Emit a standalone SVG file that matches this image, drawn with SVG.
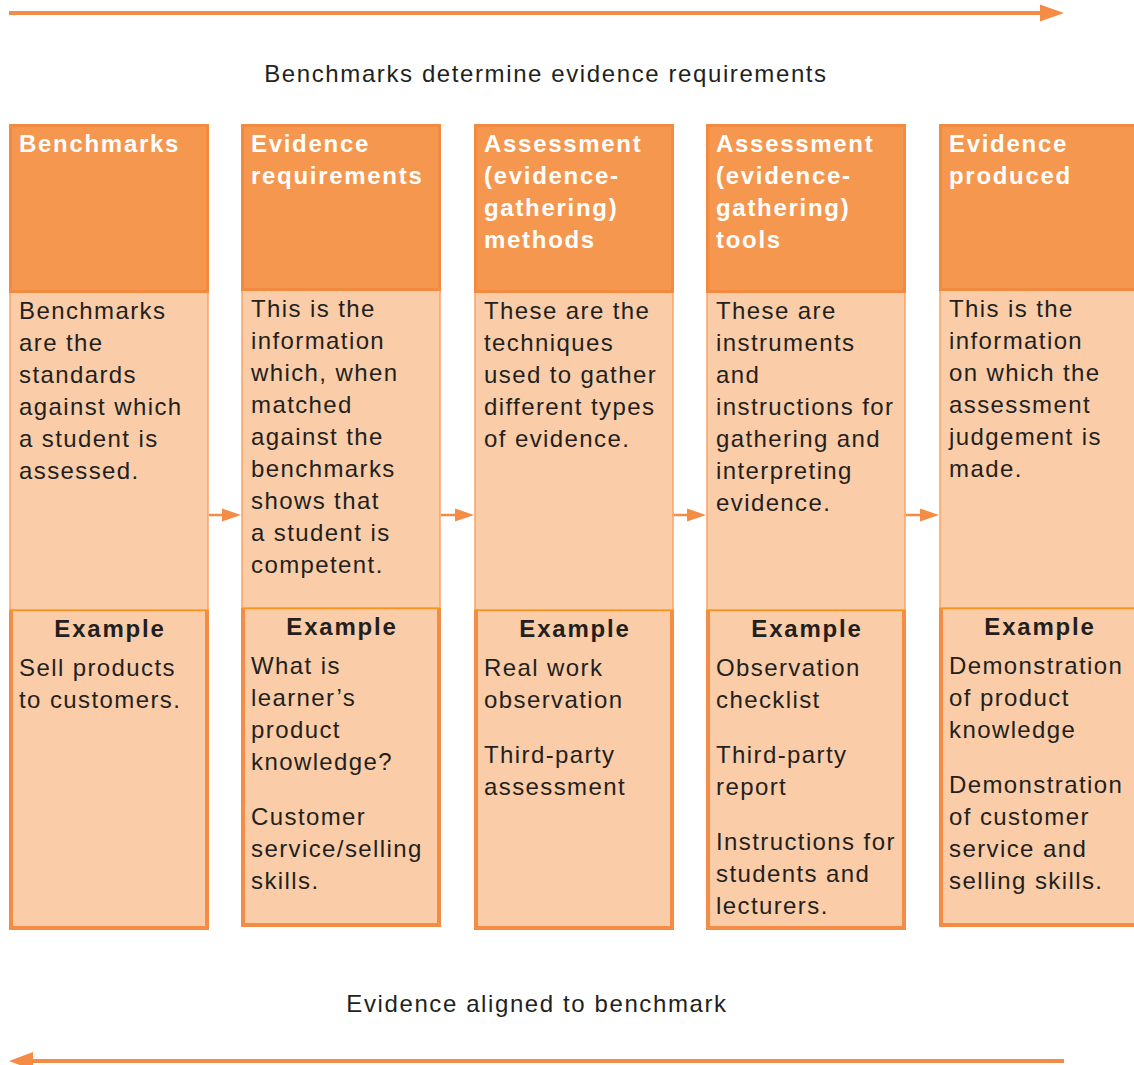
<svg xmlns="http://www.w3.org/2000/svg" width="1134" height="1065" viewBox="0 0 1134 1065">
  <style>
    .hdr { fill: #F5974F; stroke: #F28A40; stroke-width: 3; }
    .body { fill: #FACDA8; stroke: #F7A265; stroke-width: 1.5; }
    .ex { fill: #FACDA8; }
    .exedge { fill: none; stroke: #F58C45; stroke-width: 4; }
    .exdiv { stroke: #F7941D; stroke-width: 1.5; }
    .ht { font-family: "Liberation Sans", Arial, sans-serif; font-weight: bold; font-size: 24px; letter-spacing: 1.7px; fill: #FFFFFF; }
    .bt { font-family: "Liberation Sans", Arial, sans-serif; font-size: 24px; letter-spacing: 1.4px; fill: #231F20; }
    .et { font-family: "Liberation Sans", Arial, sans-serif; font-weight: bold; font-size: 24px; letter-spacing: 1.8px; fill: #231F20; text-anchor: middle; }
    .cap { font-family: "Liberation Sans", Arial, sans-serif; font-size: 24px; letter-spacing: 1.6px; fill: #231F20; text-anchor: middle; }
    .line { stroke: #F58C45; stroke-width: 4; fill: none; }
    .sline { stroke: #F58C45; stroke-width: 2.5; fill: none; }
    .head { fill: #F58C45; }
  </style>

  <!-- flow captions -->
  <text class="cap" x="546" y="82">Benchmarks determine evidence requirements</text>
  <text class="cap" x="537" y="1012">Evidence aligned to benchmark</text>

  <!-- column 1 -->
  <g id="benchmarks">
    <rect class="body" x="10" y="292" width="198" height="318"/>
    <rect class="hdr" x="10.5" y="125.5" width="197" height="166"/>
    <rect class="ex" x="9" y="610" width="200" height="320"/>
    <path class="exedge" d="M11 610 V928 H207 V610"/>
    <line class="exdiv" x1="9" y1="610.5" x2="209" y2="610.5"/>
    <text class="ht" x="19" y="152">Benchmarks</text>
    <text class="bt" x="19" y="319"><tspan x="19">Benchmarks</tspan><tspan x="19" dy="32">are the</tspan><tspan x="19" dy="32">standards</tspan><tspan x="19" dy="32">against which</tspan><tspan x="19" dy="32">a student is</tspan><tspan x="19" dy="32">assessed.</tspan></text>
    <text class="et" x="110" y="637">Example</text>
    <text class="bt" x="19" y="676"><tspan x="19">Sell products</tspan><tspan x="19" dy="32">to customers.</tspan></text>
  </g>

  <!-- column 2 -->
  <g id="evidence-requirements">
    <rect class="body" x="242" y="290" width="198" height="318"/>
    <rect class="hdr" x="242.5" y="125.5" width="197" height="164"/>
    <rect class="ex" x="241" y="608" width="200" height="319"/>
    <path class="exedge" d="M243 608 V925 H439 V608"/>
    <line class="exdiv" x1="241" y1="608.5" x2="441" y2="608.5"/>
    <text class="ht" x="251" y="152"><tspan x="251">Evidence</tspan><tspan x="251" dy="32">requirements</tspan></text>
    <text class="bt" x="251" y="317"><tspan x="251">This is the</tspan><tspan x="251" dy="32">information</tspan><tspan x="251" dy="32">which, when</tspan><tspan x="251" dy="32">matched</tspan><tspan x="251" dy="32">against the</tspan><tspan x="251" dy="32">benchmarks</tspan><tspan x="251" dy="32">shows that</tspan><tspan x="251" dy="32">a student is</tspan><tspan x="251" dy="32">competent.</tspan></text>
    <text class="et" x="342" y="635">Example</text>
    <text class="bt" x="251" y="674"><tspan x="251">What is</tspan><tspan x="251" dy="32">learner’s</tspan><tspan x="251" dy="32">product</tspan><tspan x="251" dy="32">knowledge?</tspan><tspan x="251" dy="55">Customer</tspan><tspan x="251" dy="32">service/selling</tspan><tspan x="251" dy="32">skills.</tspan></text>
  </g>

  <!-- column 3 -->
  <g id="assessment-methods">
    <rect class="body" x="475" y="292" width="198" height="318"/>
    <rect class="hdr" x="475.5" y="125.5" width="197" height="166"/>
    <rect class="ex" x="474" y="610" width="200" height="320"/>
    <path class="exedge" d="M476 610 V928 H672 V610"/>
    <line class="exdiv" x1="474" y1="610.5" x2="674" y2="610.5"/>
    <text class="ht" x="484" y="152"><tspan x="484">Assessment</tspan><tspan x="484" dy="32">(evidence-</tspan><tspan x="484" dy="32">gathering)</tspan><tspan x="484" dy="32">methods</tspan></text>
    <text class="bt" x="484" y="319"><tspan x="484">These are the</tspan><tspan x="484" dy="32">techniques</tspan><tspan x="484" dy="32">used to gather</tspan><tspan x="484" dy="32">different types</tspan><tspan x="484" dy="32">of evidence.</tspan></text>
    <text class="et" x="575" y="637">Example</text>
    <text class="bt" x="484" y="676"><tspan x="484">Real work</tspan><tspan x="484" dy="32">observation</tspan><tspan x="484" dy="55">Third-party</tspan><tspan x="484" dy="32">assessment</tspan></text>
  </g>

  <!-- column 4 -->
  <g id="assessment-tools">
    <rect class="body" x="707" y="292" width="198" height="318"/>
    <rect class="hdr" x="707.5" y="125.5" width="197" height="166"/>
    <rect class="ex" x="706" y="610" width="200" height="320"/>
    <path class="exedge" d="M708 610 V928 H904 V610"/>
    <line class="exdiv" x1="706" y1="610.5" x2="906" y2="610.5"/>
    <text class="ht" x="716" y="152"><tspan x="716">Assessment</tspan><tspan x="716" dy="32">(evidence-</tspan><tspan x="716" dy="32">gathering)</tspan><tspan x="716" dy="32">tools</tspan></text>
    <text class="bt" x="716" y="319"><tspan x="716">These are</tspan><tspan x="716" dy="32">instruments</tspan><tspan x="716" dy="32">and</tspan><tspan x="716" dy="32">instructions for</tspan><tspan x="716" dy="32">gathering and</tspan><tspan x="716" dy="32">interpreting</tspan><tspan x="716" dy="32">evidence.</tspan></text>
    <text class="et" x="807" y="637">Example</text>
    <text class="bt" x="716" y="676"><tspan x="716">Observation</tspan><tspan x="716" dy="32">checklist</tspan><tspan x="716" dy="55">Third-party</tspan><tspan x="716" dy="32">report</tspan><tspan x="716" dy="55">Instructions for</tspan><tspan x="716" dy="32">students and</tspan><tspan x="716" dy="32">lecturers.</tspan></text>
  </g>

  <!-- column 5 (runs off the right edge) -->
  <g id="evidence-produced">
    <rect class="body" x="940" y="290" width="210" height="318"/>
    <rect class="hdr" x="940.5" y="125.5" width="210" height="164"/>
    <rect class="ex" x="939" y="608" width="210" height="319"/>
    <path class="exedge" d="M941 608 V925 H1150"/>
    <line class="exdiv" x1="939" y1="608.5" x2="1150" y2="608.5"/>
    <text class="ht" x="949" y="152"><tspan x="949">Evidence</tspan><tspan x="949" dy="32">produced</tspan></text>
    <text class="bt" x="949" y="317"><tspan x="949">This is the</tspan><tspan x="949" dy="32">information</tspan><tspan x="949" dy="32">on which the</tspan><tspan x="949" dy="32">assessment</tspan><tspan x="949" dy="32">judgement is</tspan><tspan x="949" dy="32">made.</tspan></text>
    <text class="et" x="1040" y="635">Example</text>
    <text class="bt" x="949" y="674"><tspan x="949">Demonstration</tspan><tspan x="949" dy="32">of product</tspan><tspan x="949" dy="32">knowledge</tspan><tspan x="949" dy="55">Demonstration</tspan><tspan x="949" dy="32">of customer</tspan><tspan x="949" dy="32">service and</tspan><tspan x="949" dy="32">selling skills.</tspan></text>
  </g>

  <!-- connectors -->
  <g id="connectors">
    <line class="line" x1="9" y1="13" x2="1044" y2="13"/>
    <polygon class="head" points="1040,4.5 1064,13 1040,21.5"/>
    <line class="line" x1="1064" y1="1061" x2="29" y2="1061"/>
    <polygon class="head" points="33,1052 9,1061 33,1070"/>

    <line class="sline" x1="209" y1="515" x2="225" y2="515"/>
    <polygon class="head" points="222,508.5 241,515 222,521.5"/>
    <line class="sline" x1="441" y1="515" x2="458" y2="515"/>
    <polygon class="head" points="455,508.5 474,515 455,521.5"/>
    <line class="sline" x1="674" y1="515" x2="690" y2="515"/>
    <polygon class="head" points="687,508.5 706,515 687,521.5"/>
    <line class="sline" x1="906" y1="515" x2="923" y2="515"/>
    <polygon class="head" points="920,508.5 939,515 920,521.5"/>
  </g>
</svg>
